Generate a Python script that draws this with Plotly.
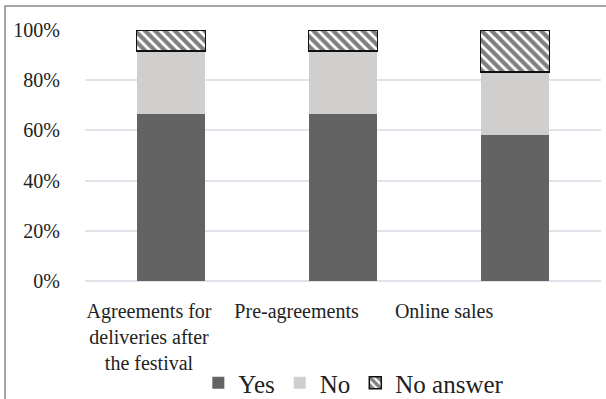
import plotly.graph_objects as go

# Survey answers per sales channel (share of respondents, %)
categories = ["Agreements for<br>deliveries after<br>the festival", "Pre-agreements", "Online sales"]
yes_pct = [66.7, 66.7, 58.3]
no_pct = [25.0, 25.0, 25.0]
no_answer_pct = [8.3, 8.3, 16.7]
y_ticks = [0, 20, 40, 60, 80, 100]
y_tick_labels = [f"{v}%" for v in y_ticks]

FONT = "'Times New Roman', 'Liberation Serif', serif"
TEXT = "#222222"
GRID = "#dfe3ea"
positions = list(range(len(categories)))

fig = go.Figure()
fig.add_trace(go.Bar(name="Yes", x=positions, y=yes_pct,
                     marker=dict(color="#636363", line=dict(width=0))))
fig.add_trace(go.Bar(name="No", x=positions, y=no_pct,
                     marker=dict(color="#d0cfce", line=dict(width=0))))
fig.add_trace(go.Bar(name="No answer", x=positions, y=no_answer_pct,
                     marker=dict(color="white",
                                 line=dict(color="#111111", width=1.5),
                                 pattern=dict(shape="\\", fgcolor="#000000",
                                              bgcolor="white", size=7,
                                              solidity=0.6))))

# invisible helper trace so the label axis is rendered
fig.add_trace(go.Scatter(x=positions, y=[0] * len(positions), xaxis="x2",
                         mode="markers", marker=dict(opacity=0),
                         showlegend=False, hoverinfo="skip"))

fig.update_layout(
    width=606, height=399,
    margin=dict(l=85, r=5, t=30, b=118),
    barmode="stack",
    bargap=0.6,
    plot_bgcolor="white",
    paper_bgcolor="white",
    font=dict(family=FONT, size=20, color=TEXT),
    xaxis=dict(range=[-0.5, 2.5], showticklabels=False, showgrid=False,
               zeroline=False, showline=False, ticks="", automargin=False),
    xaxis2=dict(overlaying="x", side="bottom", range=[-0.434, 3.064],
                tickmode="array", tickvals=positions, ticktext=categories,
                showgrid=False, zeroline=False, showline=False,
                ticks="outside", ticklen=12, tickcolor="rgba(0,0,0,0)",
                automargin=False,
                tickfont=dict(family=FONT, size=20, color=TEXT)),
    yaxis=dict(range=[0, 100], tickmode="array", tickvals=y_ticks,
               ticktext=y_tick_labels, showgrid=True, gridcolor=GRID,
               gridwidth=1.5, zeroline=True, zerolinecolor=GRID,
               zerolinewidth=1.5, showline=False, automargin=False,
               ticks="outside", ticklen=20, tickcolor="rgba(0,0,0,0)",
               tickfont=dict(family=FONT, size=20, color=TEXT)),
    legend=dict(orientation="h", xref="paper", x=0.521, xanchor="center",
                yref="container", y=0.04, yanchor="middle",
                traceorder="normal",
                font=dict(family=FONT, size=25, color=TEXT),
                itemwidth=30, bgcolor="rgba(0,0,0,0)"),
    shapes=[dict(type="rect", xref="paper", yref="paper",
                 x0=-0.155, x1=1.05, y0=-0.6, y1=1.0956,
                 line=dict(color="#8a8a8a", width=1.5), layer="below")],
)

fig.write_html("out.html")
